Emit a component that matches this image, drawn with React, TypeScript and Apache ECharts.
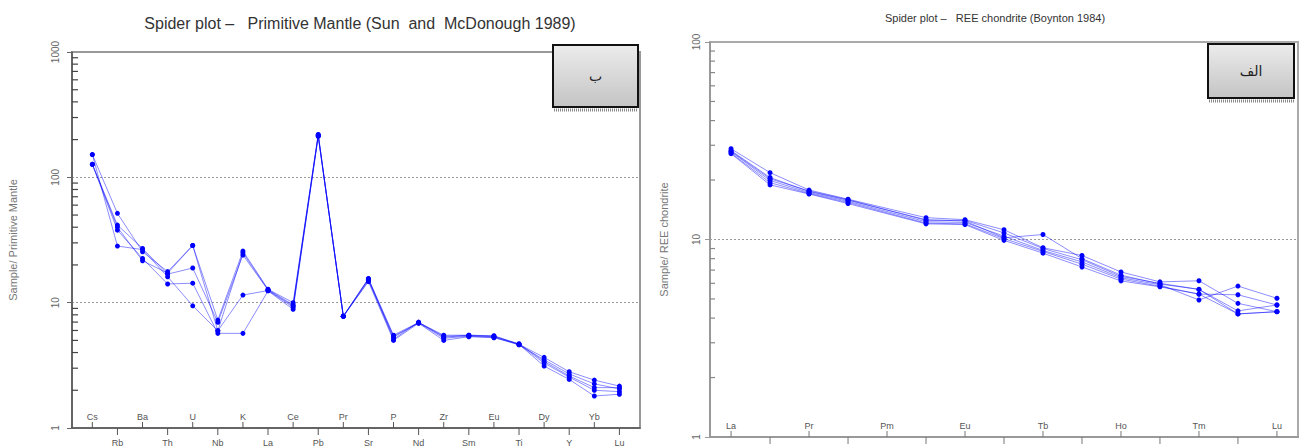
import React, { useEffect, useRef } from "react";
import * as echarts from "echarts";

// ---------- data ----------
const pmElements = ["Cs","Rb","Ba","Th","U","Nb","K","La","Ce","Pb","Pr","Sr","P","Nd","Zr","Sm","Eu","Ti","Dy","Y","Yb","Lu"];
const pmSampleA = [152, 51.6, 25.5, 17.7, 28.6, 7.26, 25.8, 12.8, 10.0, 220, 7.8, 15.6, 5.5, 6.95, 5.5, 5.5, 5.45, 4.65, 3.66, 2.81, 2.41, 2.16];
const pmSampleB = [127, 41.6, 27.1, 16.9, 18.9, 6.97, 24.0, 12.6, 9.4, 214, 7.75, 15.0, 5.3, 6.9, 5.2, 5.4, 5.3, 4.6, 3.5, 2.7, 2.25, 2.05];
const pmSampleC = [127, 37.9, 22.5, 14.1, 14.3, 5.69, 5.69, 12.4, 8.85, 212, 7.8, 14.7, 5.0, 6.85, 5.0, 5.35, 5.25, 4.65, 3.12, 2.44, 1.80, 1.86];
const pmSampleD = [152, 28.3, 26.5, 16.1, 9.44, 5.97, 11.5, 12.5, 9.2, 216, 7.8, 15.3, 5.4, 6.9, 5.4, 5.45, 5.35, 4.65, 3.3, 2.55, 2.0, 1.95];
const pmSampleE = [127, 40.0, 21.6, 17.2, 28.6, 5.97, 25.0, 12.7, 9.6, 218, 7.8, 15.5, 5.1, 7.0, 5.3, 5.5, 5.4, 4.7, 3.4, 2.6, 2.1, 2.1];
const pmSamples = [pmSampleA, pmSampleB, pmSampleC, pmSampleD, pmSampleE];

const reeElements = ["La","Ce","Pr","Nd","Pm","Sm","Eu","Gd","Tb","Dy","Ho","Er","Tm","Yb","Lu"];
const reeSample1 = [28.8, 21.8, 17.8, 16.0, null, 12.9, 12.6, 11.2, 9.08, 8.3, 6.85, 6.1, 6.18, 4.75, 4.31];
const reeSample2 = [28.2, 20.6, 17.5, 15.8, null, 12.6, 12.4, 10.2, 10.6, 8.0, 6.6, 5.95, 5.59, 4.35, 4.66];
const reeSample3 = [27.8, 19.9, 17.3, 15.6, null, 12.3, 12.2, 10.4, 8.8, 7.7, 6.4, 5.9, 4.94, 5.81, 5.04];
const reeSample4 = [27.4, 19.4, 17.1, 15.4, null, 12.1, 12.0, 10.1, 8.7, 7.5, 6.3, 5.8, 5.29, 5.25, 4.66];
const reeSample5 = [27.2, 18.9, 17.0, 15.2, null, 12.0, 11.9, 9.9, 8.53, 7.26, 6.17, 5.76, 5.29, 4.2, 4.31];
const reeSample6 = [28.0, 20.3, 17.6, 15.9, null, 12.5, 12.5, 10.8, 9.0, 7.9, 6.5, 6.0, 5.59, 4.2, 4.31];
const reeSamples = [reeSample1, reeSample2, reeSample3, reeSample4, reeSample5, reeSample6];

const pmTitle = "Spider plot \u2013   Primitive Mantle (Sun  and  McDonough 1989)";
const reeTitle = "Spider plot \u2013   REE chondrite (Boynton 1984)";
const pmAxisName = "Sample/ Primitive Mantle";
const reeAxisName = "Sample/ REE chondrite";
const pmBoxLabel = "\u0628";
const reeBoxLabel = "\u0627\u0644\u0641";

// ---------- layout ----------
const PM_XMIN = -0.81, PM_XMAX = 21.82;
const REE_XMIN = -0.54, REE_XMAX = 14.54;
const FONT = "'Liberation Sans', Arial, sans-serif";
const LINE_COLOR = "rgba(0,0,255,0.45)";
const DOT_COLOR = "#0000ff";

function minorValues(maxDecade: number) {
  const out: number[][] = [];
  for (let d = 0; d < maxDecade; d++) {
    for (let k = 2; k <= 9; k++) out.push([k * Math.pow(10, d)]);
  }
  return out;
}

export default function App() {
  const ref = useRef<HTMLDivElement>(null);
  useEffect(() => {
    if (!ref.current) return;
    const chart = echarts.init(ref.current, null, { renderer: "svg" });

    const sampleSeries = (samples: (number | null)[][], gi: number) =>
      samples.map((s, si) => ({
        type: "line",
        name: `s${gi}-${si}`,
        xAxisIndex: gi,
        yAxisIndex: gi,
        data: s.map((v, i) => (v == null ? null : [i, v])).filter((d) => d != null),
        symbol: "circle",
        symbolSize: 5,
        lineStyle: { color: LINE_COLOR, width: 1 },
        itemStyle: { color: DOT_COLOR },
        z: 5,
      }));

    const minorSeries = (gi: number, xmin: number, decades: number, color: string, len: number) => ({
      type: "custom",
      xAxisIndex: gi,
      yAxisIndex: gi,
      clip: false,
      silent: true,
      data: minorValues(decades).map((d) => [xmin, d[0]]),
      renderItem: (params: any, api: any) => {
        const p = api.coord([xmin, api.value(1)]);
        return {
          type: "line",
          shape: { x1: p[0], y1: p[1], x2: p[0] + len, y2: p[1] },
          style: { stroke: color, lineWidth: 1.2 },
        };
      },
      z: 3,
    });

    const catTickSeries = (gi: number, cats: string[], alternate: "labels" | "ticks", color: string) => ({
      type: "custom",
      xAxisIndex: gi,
      yAxisIndex: gi,
      clip: false,
      silent: true,
      data: cats.map((c, i) => [i, 1]),
      renderItem: (params: any, api: any) => {
        const i = params.dataIndex;
        const p = api.coord([i, 1]);
        const up = i % 2 === 0;
        const children: any[] = [];
        if (up) {
          children.push({ type: "line", shape: { x1: p[0], y1: p[1], x2: p[0], y2: p[1] - 6 }, style: { stroke: color, lineWidth: 1 } });
          children.push({ type: "text", style: { x: p[0], y: p[1] - 11, text: cats[i], fill: "#555", fontSize: 9, fontFamily: FONT, align: "center", verticalAlign: "middle" } });
        } else {
          children.push({ type: "line", shape: { x1: p[0], y1: p[1], x2: p[0], y2: p[1] + 7 }, style: { stroke: color, lineWidth: 1 } });
          if (alternate === "labels") {
            children.push({ type: "text", style: { x: p[0], y: p[1] + 15, text: cats[i], fill: "#555", fontSize: 9, fontFamily: FONT, align: "center", verticalAlign: "middle" } });
          }
        }
        return { type: "group", children };
      },
      z: 4,
    });

    const box = (x: number, y: number, w: number, h: number, label: string) => [
      {
        type: "line",
        shape: { x1: x + 1, y1: y + h + 3, x2: x + w, y2: y + h + 3 },
        style: { stroke: "#888", lineWidth: 3, lineDash: [1, 1] },
        z: 20,
      },
      {
        type: "rect",
        shape: { x, y, width: w, height: h },
        style: {
          fill: new echarts.graphic.LinearGradient(0, 0, 0, 1, [
            { offset: 0, color: "#ececec" },
            { offset: 1, color: "#c4c4c4" },
          ]),
          stroke: "#111",
          lineWidth: 2,
        },
        z: 21,
      },
      {
        type: "text",
        x: x + w / 2,
        y: y + h / 2,
        style: { text: label, fill: "#222", fontSize: 14, fontFamily: "'DejaVu Sans', sans-serif", align: "center", verticalAlign: "middle" },
        z: 22,
      },
    ];

    const yAxisCommon = {
      type: "log",
      logBase: 10,
      nameLocation: "middle",
      nameTextStyle: { color: "#777", fontSize: 11, fontFamily: FONT },
      axisTick: { show: true, length: 5, lineStyle: { color: "#666" } },
      axisLabel: { rotate: 90, color: "#666", fontSize: 10, fontFamily: FONT, formatter: (v: number) => String(Math.round(v)) },
      splitLine: { show: true, showMinLine: false, showMaxLine: false, lineStyle: { color: "#999", type: [2, 2], width: 1 } },
    };

    const xAxisCommon = {
      type: "value",
      axisTick: { show: false },
      axisLabel: { show: false },
      splitLine: { show: false },
    };

    chart.setOption({
      animation: false,
      backgroundColor: "#fff",
      title: [
        { text: pmTitle, left: 355, top: 10, textAlign: "center", textStyle: { color: "#333", fontSize: 16, fontWeight: "normal", fontFamily: FONT } },
        { text: reeTitle, left: 990, top: 7, textAlign: "center", textStyle: { color: "#333", fontSize: 11, fontWeight: "normal", fontFamily: FONT } },
      ],
      grid: [
        { left: 72, top: 52, width: 568, height: 376, show: true, borderColor: "#999", borderWidth: 2, backgroundColor: "transparent" },
        { left: 710, top: 42, width: 588, height: 395, show: true, borderColor: "#aaa", borderWidth: 2, backgroundColor: "transparent" },
      ],
      xAxis: [
        { ...xAxisCommon, gridIndex: 0, min: PM_XMIN, max: PM_XMAX, axisLine: { show: true, onZero: false, lineStyle: { color: "#555", width: 1.5 } } },
        { ...xAxisCommon, gridIndex: 1, min: REE_XMIN, max: REE_XMAX, axisLine: { show: true, onZero: false, lineStyle: { color: "#999", width: 2 } } },
      ],
      yAxis: [
        {
          ...yAxisCommon, gridIndex: 0, min: 1, max: 1000, name: pmAxisName, nameGap: 54,
          axisLine: { show: true, onZero: false, lineStyle: { color: "#555", width: 1.5 } },
          axisLabel: { ...yAxisCommon.axisLabel, margin: 12 },
        },
        {
          ...yAxisCommon, gridIndex: 1, min: 1, max: 100, name: reeAxisName, nameGap: 41,
          axisLine: { show: true, onZero: false, lineStyle: { color: "#999", width: 2 } },
          axisTick: { show: true, length: 5, lineStyle: { color: "#999" } },
          axisLabel: { ...yAxisCommon.axisLabel, margin: 9 },
        },
      ],
      series: [
        ...sampleSeries(pmSamples, 0),
        ...sampleSeries(reeSamples, 1),
        minorSeries(0, PM_XMIN, 3, "#444", 6),
        minorSeries(1, REE_XMIN, 2, "#888", 5),
        catTickSeries(0, pmElements, "labels", "#555"),
        catTickSeries(1, reeElements, "ticks", "#777"),
      ],
      graphic: [...box(553, 45, 85, 62, pmBoxLabel), ...box(1208, 44, 86, 54, reeBoxLabel)],
    });
    return () => chart.dispose();
  }, []);

  return <div ref={ref} style={{ position: "fixed", left: 0, top: 0, width: 1299, height: 448, background: "#fff" }} />;
}
